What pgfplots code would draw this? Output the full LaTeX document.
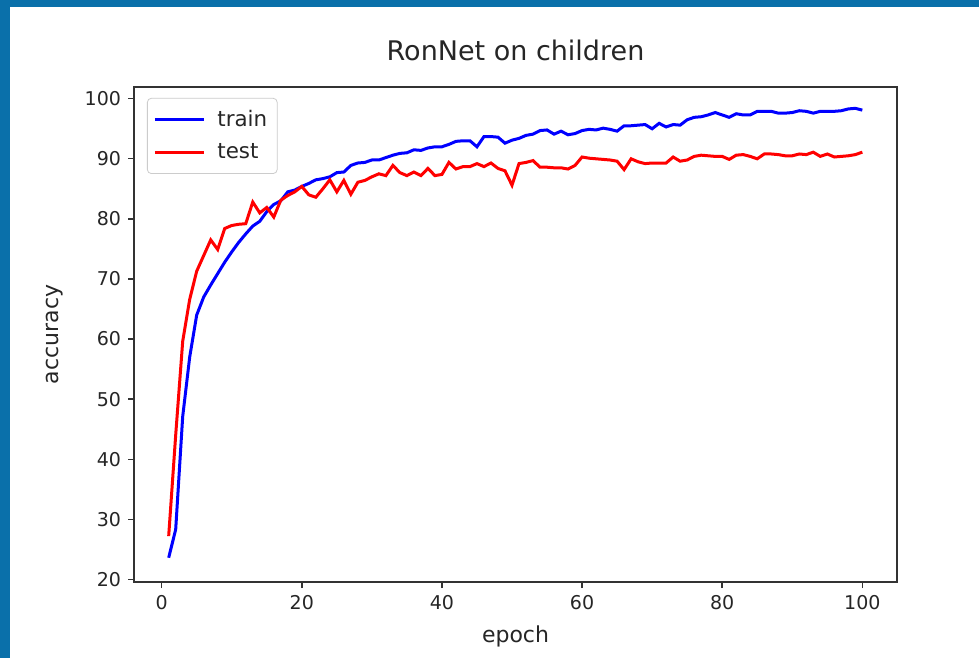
\documentclass[border=0pt]{standalone}
\usepackage{pgfplots}
\pgfplotsset{compat=1.18}
\usepackage{fontspec}
\setmainfont{DejaVu Sans}
\definecolor{frameblue}{RGB}{10,112,170}
\definecolor{legframe}{RGB}{204,204,204}

% accuracy per epoch
\pgfplotstableread{
epoch train test
1 23.6 27.2
2 28.3 44.0
3 47.1 59.6
4 57.0 66.6
5 64.0 71.3
6 67.0 73.9
7 69.0 76.5
8 70.9 74.9
9 72.8 78.4
10 74.5 78.9
11 76.1 79.1
12 77.5 79.2
13 78.8 82.8
14 79.6 81.0
15 81.2 81.9
16 82.4 80.3
17 83.0 83.1
18 84.5 83.9
19 84.8 84.5
20 85.4 85.4
21 85.9 84.0
22 86.5 83.6
23 86.7 85.0
24 87.0 86.5
25 87.7 84.5
26 87.8 86.4
27 88.9 84.1
28 89.3 86.1
29 89.4 86.4
30 89.8 87.0
31 89.8 87.5
32 90.2 87.2
33 90.6 88.9
34 90.9 87.7
35 91.0 87.2
36 91.5 87.8
37 91.4 87.2
38 91.8 88.4
39 92.0 87.2
40 92.0 87.4
41 92.4 89.4
42 92.9 88.3
43 93.0 88.7
44 93.0 88.7
45 92.0 89.2
46 93.7 88.7
47 93.7 89.3
48 93.6 88.4
49 92.6 88.0
50 93.1 85.6
51 93.4 89.2
52 93.9 89.4
53 94.1 89.7
54 94.7 88.6
55 94.8 88.6
56 94.1 88.5
57 94.6 88.5
58 94.0 88.3
59 94.2 88.9
60 94.7 90.3
61 94.9 90.1
62 94.8 90.0
63 95.1 89.9
64 94.9 89.8
65 94.6 89.6
66 95.5 88.2
67 95.5 90.0
68 95.6 89.5
69 95.7 89.2
70 95.0 89.3
71 95.9 89.3
72 95.3 89.3
73 95.7 90.3
74 95.6 89.6
75 96.5 89.8
76 96.9 90.4
77 97.0 90.6
78 97.3 90.5
79 97.7 90.4
80 97.3 90.4
81 96.9 89.9
82 97.5 90.6
83 97.3 90.7
84 97.3 90.4
85 97.9 90.0
86 97.9 90.8
87 97.9 90.8
88 97.6 90.7
89 97.6 90.5
90 97.7 90.5
91 98.0 90.8
92 97.9 90.7
93 97.6 91.1
94 97.9 90.4
95 97.9 90.8
96 97.9 90.3
97 98.0 90.4
98 98.3 90.5
99 98.4 90.7
100 98.1 91.1
}\acc

\begin{document}
\begin{tikzpicture}
\path[use as bounding box] (0,0) rectangle (489.5pt,-329pt);
\fill[white] (0,0) rectangle (489.5pt,-329pt);
\begin{axis}[
  at={(67pt,-291pt)}, anchor=south west,
  scale only axis,
  width=381.5pt, height=247.5pt,
  xmin=-3.95, xmax=104.95,
  ymin=19.56, ymax=101.95,
  xtick={0,20,40,60,80,100},
  ytick={20,30,...,100},
  tick pos=left,
  tick align=outside,
  major tick length=3pt,
  axis line style={line width=0.7pt, black!80},
  every tick/.style={black!80, line width=0.7pt},
  /pgf/number format/assume math mode=true,
  tick label style={font=\fontsize{9.5}{11}\selectfont, text=black!85},
  title={RonNet on children},
  title style={at={(axis description cs:0.5,1.0283)}, anchor=base,
    font=\fontsize{13.5}{16}\selectfont, text=black!85},
  xlabel={epoch},
  xlabel style={at={(axis description cs:0.5,-0.1232)}, anchor=base,
    font=\fontsize{11}{13}\selectfont, text=black!85},
  ylabel={accuracy},
  ylabel style={at={(axis description cs:-0.1035,0.5)}, anchor=center, rotate=0,
    font=\fontsize{11}{13}\selectfont, text=black!85},
  legend cell align=left,
  legend image code/.code={\draw[#1, line width=1.5pt] (0pt,0pt) -- (24.5pt,0pt);},
  legend style={at={(axis description cs:0.017,0.978)}, anchor=north west,
    draw=legframe, rounded corners=2pt, fill=white,
    font=\fontsize{10.7}{12.5}\selectfont, text=black!85,
    row sep=3pt, inner xsep=3pt, inner ysep=4pt,
    /tikz/every odd column/.append style={column sep=4pt}},
]
\addplot[blue, line width=1.5pt] table[x=epoch, y=train] {\acc};
\addlegendentry{train}
\addplot[red, line width=1.5pt] table[x=epoch, y=test] {\acc};
\addlegendentry{test}
\end{axis}
\fill[frameblue] (0,0) rectangle (489.5pt,-3.5pt);
\fill[frameblue] (0,0) rectangle (5pt,-329pt);
\end{tikzpicture}
\end{document}
